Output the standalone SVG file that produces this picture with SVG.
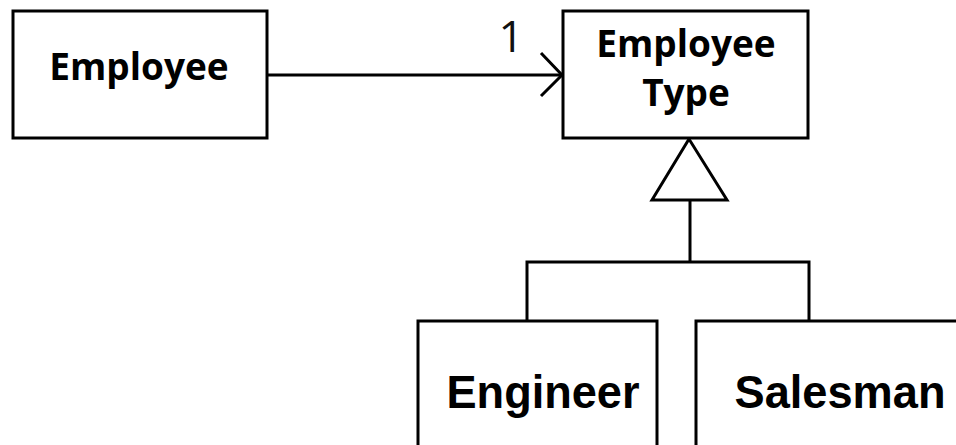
<svg xmlns="http://www.w3.org/2000/svg" width="956" height="445" viewBox="0 0 956 445">
  <style>
    .box { fill: #fff; stroke: #000; stroke-width: 3; }
    .line { fill: none; stroke: #000; stroke-width: 3; }
    .seg { font-family: "Open Sans", "Noto Sans", sans-serif; font-weight: bold; font-size: 37px; fill: #000; text-anchor: middle; }
    .ari { font-family: "Liberation Sans", Arial, sans-serif; font-weight: bold; font-size: 46px; fill: #000; text-anchor: middle; }
    .mult { font-family: "Open Sans", "Noto Sans", sans-serif; font-size: 44px; fill: #111; text-anchor: middle; }
  </style>
  <rect width="956" height="445" fill="#fff"/>

  <g id="connectors">
    <!-- association Employee -> Employee Type -->
    <line class="line" x1="268" y1="75" x2="562" y2="75"/>
    <polyline class="line" points="541,53 562,75 541,96"/>
    <text class="mult" x="511" y="52">1</text>
    <!-- generalization tree -->
    <polygon class="line" points="689,139 652,200 727,200" fill="#fff"/>
    <line class="line" x1="690" y1="200" x2="690" y2="262"/>
    <polyline class="line" points="527,320 527,262 809,262 809,320"/>
  </g>

  <g id="employee">
    <rect class="box" x="13" y="11" width="254" height="127"/>
    <text class="seg" x="139" y="80">Employee</text>
  </g>

  <g id="employee-type">
    <rect class="box" x="563" y="11" width="245" height="127"/>
    <text class="seg" x="686" y="57">Employee</text>
    <text class="seg" x="686" y="106">Type</text>
  </g>

  <g id="engineer">
    <rect class="box" x="418" y="321" width="239" height="140"/>
    <text class="ari" x="543" y="408" textLength="193" lengthAdjust="spacingAndGlyphs">Engineer</text>
  </g>

  <g id="salesman">
    <rect class="box" x="696" y="321" width="280" height="140"/>
    <text class="ari" x="840" y="408" textLength="211" lengthAdjust="spacingAndGlyphs">Salesman</text>
  </g>
</svg>
